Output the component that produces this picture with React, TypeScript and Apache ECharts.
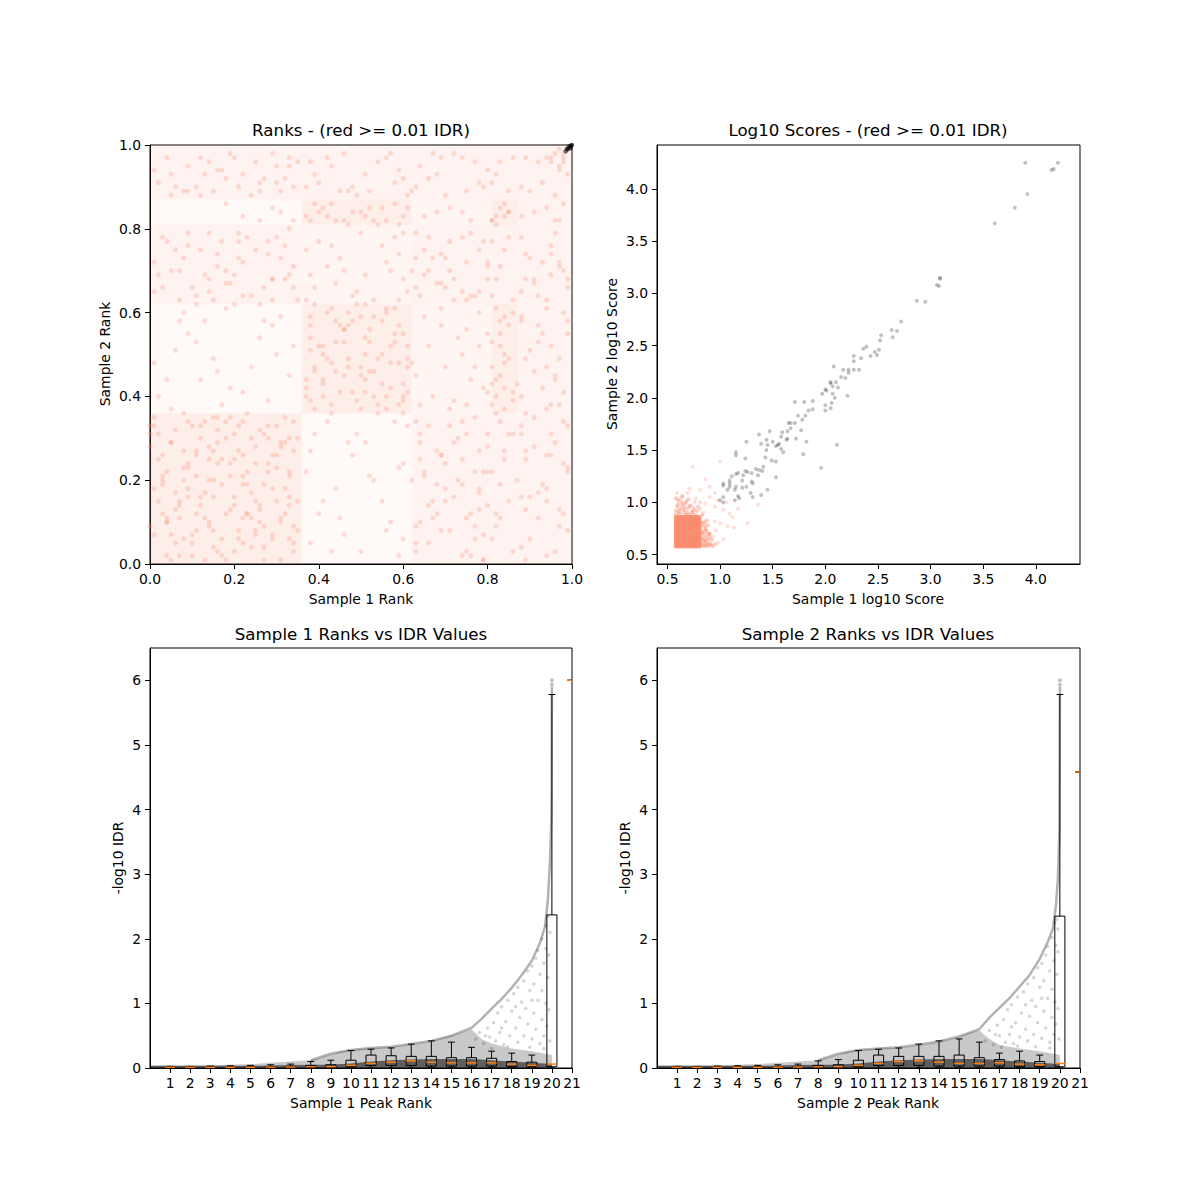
import React, { useEffect, useRef } from "react";
import * as echarts from "echarts";

// ---------- tick values ----------
const rankTicks = [0, 0.2, 0.4, 0.6, 0.8, 1.0];
const scoreTicks = [0.5, 1.0, 1.5, 2.0, 2.5, 3.0, 3.5, 4.0];
const idrTicks = [0, 1, 2, 3, 4, 5, 6];
const peakRankTicks = [1, 2, 3, 4, 5, 6, 7, 8, 9, 10, 11, 12, 13, 14, 15, 16, 17, 18, 19, 20, 21];

// ---------- panel 1: ranks ----------
const rankBlockEdges = [0, 0.36, 0.62, 0.81, 0.87, 1.0];
// density level per block: rows = x block, cols = y block
const rankBlockDensity = [
  [3, 1, 2, 1, 2],
  [1, 3, 1.5, 3, 2],
  [2, 1.5, 2, 1.5, 2],
  [2, 3, 2, 3, 2],
  [2, 2, 2, 2, 2],
];
// each code: two digits x rank (%), two digits y rank (%)
const rankPointCodes = `
0312 0827 1504 2219 3033 0605 1121 1830 2508 3314 0118 0934
1410 2025 2701 3229 0422 1007 1635 2312 2926 3403 0231 0715
1301 1924 2417 3110 0529 1233 1702 2106 2822 3530 0009 0820
1516 2234 2613 3218 0326 1112 1428 2003 2731 3306 0714 0501
1624 2319 2907 3427 0133 0923 1311 1834 2528 3015 0410 1005
1719 2211 2632 3322 0617 1230 1508 2127 2404 3101 0225 0836
1420 1913 2709 3434 0507 1126 1632 2016 2524 3212 0028 0711
1317 2205 2830 3508 0320 1033 1801 2322 2614 3129 0613 0924
1535 2108 2719 3316 0402 1214 1725 2031 2411 3023 0135 0806
1409 1921 2833 3405 0319 1127 1603 2226 2515 3111 0031 0916
0240 0955 1738 2447 3159 0651 1244 2062 2839 3452 0148 1358 1942 2654 3345 0537 0860 1549 2241 2957 0444 1153 1861 2336 3050 0758 1646 2758
0165 0873 1468 2179 2963 3471 0477 1164 1870 2575 3268 0269 0976 1563 2272 3078 3466 0570 1275 1967 2662 3380 0763 1479 2069 2874 0172 1066 1777 2464 3173 0378 1162 1674 2378 2968 3563 0675 1369 2177 2766
2283 2985 3482 1886 2682 3184
0291 0995 1589 2293 2998 3490 0588 1297 1892 2596 3189 0194 0889 1496 2190 2792 3397 0497 1190 1794 2488 3095 0690 1393 2097 2689 3292 3596
3805 4418 5129 5710 6024 3931 4607 5320 5902 4012 4826 5515 6133 3722 4303 4931 5608 5923 4115 4729 5436 6006 3827 4511 5221 5834 4234 5003
3740 4152 4645 5059 5438 5853 6147 3857 4336 4749 5162 5742 6055 3947 4458 4841 5256 5640 5948 3744 4260 4653 5037 5449 5861 6141 3851 4144 4557 4939 5346 5752 6036 3962 4348 4760 5154 5543 5938 3742 4150 4656 5045 5359 5748 6152 3854 4338 4747 5253 5661 6043 3937 4446 4858 5141 5550 5957 3859 4140
3966 4573 5169 5878 4271 4864 5576 6068 3775 4467 5079 5672 6165 4077 4670 5363 5974 3869 4376 4965 5770 6079
3783 4185 4682 5084 5481 5886 6083 3986 4482 4884 5285 5682 6185 4283
3790 4395 4988 5697 6092 4091 4698 5289 5994 3896 4589 5193 5798 6188 4297 4890 5496 5891 3993 4789
6303 6812 7425 7907 6431 7018 7602 8022 6614 7229 7735 6309 6926 7511 7817 6522 7133 7706 8028 6715 7320 7901 6429 6908 7434 7813 6220 7024 7612 8031 6605 7216 7827 6334 6819 7503 7922 6711 7330 7709 6425
6438 7047 7556 8041 6652 7239 7860 6345 6957 7450 7942 6740 7354 7747 6559 7137 7644 8055 6248 6961 7538 7852
6366 6974 7563 8071 6678 7268 7875 6464 7073 7679 6270 6867 7465 7977 6575 7170 7764 6379 7066 7572 8068 6773
6583 7185 7682 6884 7484
6390 6997 7589 8094 6692 7298 7891 6495 7088 7796 6289 6893 7497 7990 6798
8106 8319 8531 8212 8427 8603 8122 8334 8515 8209 8425 8631 8311
8138 8244 8352 8459 8641 8147 8355 8437 8549 8261 8143 8358 8450 8639
8164 8371 8578 8268 8475 8663 8177
8182 8385 8483 8281 8584
8191 8396 8589 8293 8697
8804 9217 9629 9908 8925 9402 9713 8833 9319 9824 9006 9531 8816 9128 9709 9922 8901 9415 9834 8927 9211 9603 9933 8720 9526 9812 9135 9418
8840 9253 9645 9958 8949 9437 9860 9146 9552 8858 9342 9749 9955 8936 9461 9644 9051 9738 8743 9257
8865 9372 9679 9968 8974 9463 9870 9167 9576 8878 9264 9771 9966 9073 9569
8883 9485 9782 9184 9886
8890 9296 9688 9993 8997 9391 9794 9089 9597 9799 9698 9897 9596 9795 9898 9999 9497 9896
`;
const rankPointCodesExtra = `
0215 0632 1108 1527 2014 2430 2906 3321 0410 0823 1334 1812 2221 2704 3128 3515 0107 0529 0918 1425
1706 2133 2610 3026 3409 0321 0702 1216 1629 2312 2824 3235 0033 0411 1002 1520 1935 2507 2918 3330
3839 4249 4757 5144 5660 6040 3946 4453 4962 5340 5855 6149 3763 4143 4656 5150 5637 5963 4052 4541 5047 5558 6039 4361 5246
3882 4386 4781 5183 5585 5981 4084 5382
8240 8448 8557 8345 8153 8660 8442 8236
8283 8486 8182 8584
6410 6926 7402 7818 6633 7108 7722 6305 7015 7531 8014 6827 7419 6521 7901
6569 7177 7664 8072 6373 6967 7478 7865 6670 7263
8913 9426 9841 9355 8968 9682 9016 9538 9772 8859 9447 9923 9168 9574 8831
0366 0979 1671 2264 2877 3369 0770 1465 2173 2968 3276 1867
0593 1288 1998 2691 3395 0989 1694 3091
`;
const rankTopPoints = [
  [0.99, 0.99], [0.995, 0.995], [1.0, 1.0], [0.993, 0.997], [0.997, 0.992],
  [0.988, 0.991], [0.985, 0.985], [0.998, 0.999],
];

// ---------- panel 2: log10 scores ----------
const scoreGrayPoints = [
  [3.90, 4.25], [4.21, 4.25], [4.15, 4.18], [4.17, 4.19], [3.92, 3.95], [3.80, 3.82], [3.61, 3.67],
  [3.09, 3.15], [3.09, 3.14], [3.06, 3.08], [3.08, 3.07], [2.87, 2.93], [2.95, 2.92], [2.72, 2.73],
  [2.63, 2.65], [2.68, 2.64], [2.64, 2.58], [2.53, 2.60], [2.52, 2.55], [2.51, 2.46], [2.47, 2.44], [2.49, 2.41], [2.43, 2.40],
  [2.39, 2.49], [2.36, 2.47], [2.34, 2.38], [2.32, 2.27], [2.27, 2.27], [2.27, 2.35], [2.27, 2.40],
  [2.22, 2.27], [2.22, 2.24], [2.19, 2.19], [2.15, 2.20], [2.08, 2.30], [2.10, 2.15], [2.07, 2.11], [2.12, 2.10],
  [2.05, 2.15], [2.00, 2.08], [2.01, 2.07], [1.97, 2.04], [2.07, 2.04], [2.09, 2.00], [2.21, 2.02], [2.05, 1.90],
  [2.00, 1.93], [1.88, 1.97], [1.88, 1.89], [1.84, 1.88], [1.81, 1.83], [1.78, 1.79], [1.74, 1.83], [1.71, 1.96],
  [1.80, 1.96], [1.71, 1.76], [1.67, 1.76], [1.65, 1.76], [1.67, 1.71], [1.64, 1.68], [1.77, 1.69], [1.72, 1.61],
  [1.82, 1.58], [1.79, 1.46], [1.63, 1.60], [1.64, 1.61], [1.58, 1.63], [1.59, 1.67], [1.56, 1.56], [1.55, 1.55],
  [1.58, 1.51], [1.53, 1.54], [1.50, 1.58], [1.45, 1.55], [1.47, 1.68], [1.44, 1.60], [1.39, 1.56], [1.37, 1.65],
  [1.25, 1.58], [1.24, 1.42], [1.15, 1.48], [1.15, 1.45], [1.44, 1.50], [1.43, 1.43], [1.41, 1.34], [1.40, 1.30],
  [1.37, 1.31], [1.36, 1.26], [1.34, 1.32], [1.30, 1.28], [1.53, 1.24], [1.49, 1.40], [1.53, 1.39], [1.60, 1.48],
  [1.26, 1.29], [1.24, 1.30], [1.22, 1.26], [1.21, 1.21], [1.17, 1.28], [1.15, 1.27], [1.11, 1.25], [1.09, 1.21],
  [1.09, 1.18], [1.03, 1.18], [1.09, 1.15], [1.07, 1.12], [1.14, 1.12], [1.15, 1.15], [1.21, 1.14], [1.17, 1.06],
  [1.18, 1.04], [1.14, 1.02], [1.30, 1.20], [1.31, 1.18], [1.29, 1.09], [1.31, 1.05], [1.39, 1.07], [1.45, 1.12],
  [1.25, 1.15], [1.03, 1.05], [1.00, 1.02], [1.03, 1.00], [1.03, 1.16], [1.96, 1.33], [2.11, 1.55], [2.00, 1.88],
  [2.06, 1.95], [2.17, 2.27], [2.05, 2.14],
];
const scoreRedSparse = [
  [0.74, 1.34], [1.00, 1.39], [0.86, 1.22], [0.69, 1.09], [0.62, 1.03], [0.59, 1.09], [0.71, 1.13], [0.81, 1.12],
  [0.90, 1.15], [0.95, 1.09], [0.98, 1.02], [1.06, 1.00], [0.90, 1.05], [0.77, 1.04], [0.86, 0.99], [0.95, 0.96],
  [1.03, 0.93], [1.09, 0.89], [1.12, 0.86], [1.07, 0.77], [1.13, 0.76], [1.26, 0.80], [1.36, 0.98], [1.17, 0.94],
  [1.00, 0.80], [0.96, 0.73], [1.03, 0.65], [0.98, 0.61], [0.93, 0.67], [0.88, 0.83], [0.86, 0.73], [0.90, 0.70],
  [0.95, 0.82], [0.81, 0.94], [0.71, 0.97], [0.65, 0.99], [0.76, 1.00], [0.81, 1.00], [0.64, 1.05], [0.68, 0.93],
  [0.84, 0.90], [0.75, 0.92],
];
const scoreRedMedium = [
  [0.82, 0.60], [0.84, 0.62], [0.86, 0.60], [0.82, 0.66], [0.85, 0.68], [0.88, 0.62], [0.83, 0.72], [0.86, 0.75],
  [0.82, 0.78], [0.84, 0.80], [0.90, 0.60], [0.88, 0.70], [0.87, 0.66], [0.92, 0.64], [0.81, 0.84], [0.83, 0.88],
  [0.60, 0.90], [0.62, 0.94], [0.58, 0.92], [0.66, 0.90], [0.70, 0.95], [0.64, 0.97], [0.59, 0.96], [0.74, 0.90],
  [0.68, 0.88], [0.78, 0.92], [0.95, 0.60], [0.90, 0.67], [0.82, 0.70], [0.85, 0.64],
  [0.58, 0.88], [0.60, 0.98], [0.62, 0.89], [0.63, 1.00], [0.65, 0.93], [0.67, 0.99], [0.69, 0.90], [0.71, 0.88],
  [0.72, 0.97], [0.75, 0.94], [0.77, 0.88], [0.79, 0.96], [0.60, 1.02], [0.64, 1.06], [0.58, 1.04], [0.70, 1.03],
  [0.66, 0.95], [0.73, 0.91], [0.61, 0.92], [0.68, 1.01],
  [0.81, 0.58], [0.83, 0.59], [0.85, 0.58], [0.87, 0.59], [0.89, 0.58], [0.81, 0.63], [0.83, 0.65], [0.86, 0.63],
  [0.81, 0.69], [0.84, 0.71], [0.87, 0.73], [0.81, 0.75], [0.85, 0.77], [0.82, 0.81], [0.88, 0.78], [0.90, 0.70],
  [0.86, 0.82], [0.91, 0.60], [0.93, 0.58], [0.89, 0.65],
];
// discrete score levels of the dense low-score block
const clusterXLevels = [0.58, 0.60, 0.62, 0.64, 0.66, 0.68, 0.70, 0.72, 0.74, 0.76, 0.78, 0.80];
const clusterYLevels = [0.58, 0.60, 0.62, 0.64, 0.66, 0.68, 0.70, 0.72, 0.74, 0.76, 0.78, 0.80, 0.82, 0.84, 0.86];

// ---------- panels 3 & 4: peak rank vs -log10 IDR ----------
const cloudX = [0, 2, 4, 5, 6, 7, 8, 8.5, 9, 9.5, 10, 11, 12, 13, 14, 15, 15.5, 16, 16.5, 17, 18, 19, 20];
const cloudTop1 = [0.04, 0.04, 0.05, 0.06, 0.08, 0.1, 0.12, 0.16, 0.21, 0.25, 0.28, 0.31, 0.32, 0.36, 0.41, 0.5, 0.55, 0.6, 0.45, 0.38, 0.3, 0.26, 0.2];
const cloudTop2 = [0.04, 0.04, 0.05, 0.06, 0.08, 0.1, 0.12, 0.16, 0.21, 0.25, 0.28, 0.3, 0.31, 0.35, 0.4, 0.48, 0.54, 0.58, 0.45, 0.36, 0.3, 0.26, 0.2];
const denseTop1 = [0.035, 0.035, 0.035, 0.035, 0.04, 0.045, 0.05, 0.05, 0.055, 0.06, 0.07, 0.1, 0.12, 0.13, 0.14, 0.14, 0.14, 0.14, 0.13, 0.12, 0.1, 0.08, 0.06];
const denseTop2 = [0.035, 0.035, 0.035, 0.035, 0.04, 0.045, 0.05, 0.05, 0.055, 0.06, 0.07, 0.1, 0.12, 0.13, 0.14, 0.14, 0.14, 0.14, 0.13, 0.12, 0.1, 0.08, 0.06];

const edgeX = [8, 9, 10, 11, 12, 13, 14, 15, 16, 16.5, 17, 17.5, 18, 18.5, 19, 19.4, 19.65, 19.8, 19.9, 19.98, 20];
const edgeY1 = [0.12, 0.22, 0.28, 0.31, 0.33, 0.37, 0.42, 0.5, 0.62, 0.76, 0.92, 1.07, 1.24, 1.44, 1.66, 1.93, 2.18, 2.6, 3.17, 3.94, 5.9];
const edgeY2 = [0.12, 0.22, 0.28, 0.3, 0.32, 0.36, 0.41, 0.49, 0.6, 0.78, 0.93, 1.08, 1.26, 1.44, 1.69, 1.95, 2.15, 2.5, 2.91, 3.68, 5.9];

const sparse1 = [
  [16.2, 0.45], [16.4, 0.55], [16.6, 0.38], [16.8, 0.62], [16.9, 0.48], [17.1, 0.7], [17.2, 0.42], [17.3, 0.85],
  [17.4, 0.55], [17.5, 0.95], [17.6, 0.36], [17.7, 0.72], [17.8, 1.05], [17.9, 0.5], [18.0, 0.88], [18.1, 1.15],
  [18.2, 0.62], [18.3, 0.4], [18.3, 1.25], [18.4, 0.78], [18.5, 1.02], [18.6, 1.35], [18.6, 0.5], [18.7, 0.92],
  [18.8, 1.5], [18.8, 0.68], [18.9, 1.2], [19.0, 0.45], [19.0, 1.58], [19.1, 0.85], [19.1, 1.3], [19.2, 1.7],
  [19.2, 0.6], [19.3, 1.05], [19.3, 1.82], [19.4, 0.38], [19.4, 1.45], [19.5, 0.75], [19.5, 2.0], [19.5, 1.2],
  [19.6, 1.62], [19.6, 0.5], [19.7, 2.2], [19.7, 1.0], [19.7, 1.85], [19.75, 0.65], [19.8, 1.4], [19.8, 2.35],
  [19.85, 0.9], [19.85, 1.75], [19.9, 2.1], [19.9, 0.42], [17.0, 0.3], [17.8, 0.33], [18.9, 0.32], [19.6, 0.3],
  [16.7, 0.5], [17.5, 0.62], [18.2, 0.95], [19.0, 1.05],
];
const sparse2 = [
  [16.3, 0.42], [16.5, 0.58], [16.7, 0.36], [16.9, 0.66], [17.0, 0.5], [17.2, 0.75], [17.3, 0.4], [17.4, 0.9],
  [17.5, 0.52], [17.6, 0.98], [17.7, 0.38], [17.8, 0.7], [17.9, 1.1], [18.0, 0.48], [18.1, 0.85], [18.2, 1.18],
  [18.3, 0.6], [18.4, 0.42], [18.4, 1.3], [18.5, 0.8], [18.6, 1.05], [18.7, 1.4], [18.7, 0.52], [18.8, 0.95],
  [18.9, 1.55], [18.9, 0.7], [19.0, 1.25], [19.1, 0.46], [19.1, 1.62], [19.2, 0.88], [19.2, 1.35], [19.3, 1.75],
  [19.3, 0.62], [19.4, 1.08], [19.4, 1.88], [19.5, 0.4], [19.5, 1.5], [19.6, 0.78], [19.6, 2.02], [19.6, 1.22],
  [19.7, 1.66], [19.7, 0.52], [19.75, 2.25], [19.75, 1.02], [19.8, 1.9], [19.8, 0.68], [19.85, 1.45], [19.85, 2.3],
  [19.9, 0.92], [19.9, 1.8], [19.9, 2.15], [19.95, 0.45], [17.1, 0.32], [17.9, 0.34], [18.8, 0.33], [19.5, 0.31],
  [16.8, 0.52], [17.6, 0.64], [18.3, 0.98], [19.1, 1.08],
];
const topOutliers1 = [[20, 6.0], [20, 5.93]];
const topOutliers2 = [[20, 6.0], [20, 5.93]];

// box stats: [position, low whisker, Q1, median, Q3, high whisker]
const boxes1 = [
  [1, 0, 0.005, 0.01, 0.015, 0.025], [2, 0, 0.005, 0.01, 0.015, 0.025], [3, 0, 0.005, 0.01, 0.015, 0.03],
  [4, 0, 0.006, 0.011, 0.018, 0.035], [5, 0, 0.008, 0.012, 0.02, 0.04], [6, 0, 0.009, 0.013, 0.022, 0.05],
  [7, 0, 0.01, 0.015, 0.025, 0.06], [8, 0, 0.01, 0.02, 0.04, 0.1], [9, 0, 0.01, 0.02, 0.05, 0.12],
  [10, 0, 0.02, 0.04, 0.12, 0.27], [11, 0, 0.04, 0.07, 0.2, 0.29], [12, 0, 0.04, 0.09, 0.19, 0.31],
  [13, 0, 0.04, 0.11, 0.18, 0.37], [14, 0, 0.03, 0.09, 0.18, 0.42], [15, 0, 0.03, 0.08, 0.16, 0.4],
  [16, 0, 0.03, 0.08, 0.16, 0.32], [17, 0, 0.03, 0.08, 0.15, 0.26], [18, 0, 0.02, 0.06, 0.1, 0.23],
  [19, 0, 0.02, 0.04, 0.09, 0.2], [20, 0, 0.02, 0.06, 2.37, 5.78], [21, 6.0, 6.0, 6.0, 6.0, 6.0],
];
const boxes2 = [
  [1, 0, 0.005, 0.01, 0.015, 0.025], [2, 0, 0.005, 0.01, 0.015, 0.025], [3, 0, 0.005, 0.01, 0.015, 0.03],
  [4, 0, 0.006, 0.011, 0.018, 0.035], [5, 0, 0.008, 0.012, 0.02, 0.04], [6, 0, 0.009, 0.013, 0.022, 0.05],
  [7, 0, 0.01, 0.015, 0.025, 0.06], [8, 0, 0.01, 0.02, 0.04, 0.11], [9, 0, 0.01, 0.02, 0.05, 0.13],
  [10, 0, 0.02, 0.04, 0.12, 0.27], [11, 0, 0.04, 0.07, 0.2, 0.29], [12, 0, 0.04, 0.1, 0.18, 0.31],
  [13, 0, 0.04, 0.11, 0.18, 0.37], [14, 0, 0.03, 0.09, 0.18, 0.42], [15, 0, 0.03, 0.07, 0.2, 0.45],
  [16, 0, 0.03, 0.07, 0.16, 0.4], [17, 0, 0.03, 0.08, 0.13, 0.23], [18, 0, 0.02, 0.06, 0.11, 0.26],
  [19, 0, 0.02, 0.05, 0.1, 0.2], [20, 0, 0.02, 0.07, 2.35, 5.78], [21, 4.58, 4.58, 4.58, 4.58, 4.58],
];

// ---------- texts ----------
const titles = [
  { text: "Ranks - (red >= 0.01 IDR)", x: 361, y: 130 },
  { text: "Log10 Scores - (red >= 0.01 IDR)", x: 868, y: 130 },
  { text: "Sample 1 Ranks vs IDR Values", x: 361, y: 634 },
  { text: "Sample 2 Ranks vs IDR Values", x: 868, y: 634 },
];
const xNames = [
  { text: "Sample 1 Rank", x: 361, y: 599 },
  { text: "Sample 1 log10 Score", x: 868, y: 599 },
  { text: "Sample 1 Peak Rank", x: 361, y: 1103 },
  { text: "Sample 2 Peak Rank", x: 868, y: 1103 },
];
const yNames = [
  { text: "Sample 2 Rank", x: 105, y: 354 },
  { text: "Sample 2 log10 Score", x: 612, y: 354 },
  { text: "-log10 IDR", x: 118, y: 858 },
  { text: "-log10 IDR", x: 625, y: 858 },
];

const FONT = "DejaVu Sans";
const SALMON = "250,140,110";

function decodeRankPoints(codes: string) {
  return codes
    .trim()
    .split(/\s+/)
    .map((c) => [Number(c.slice(0, 2)) / 100, Number(c.slice(2, 4)) / 100]);
}

function buildOption() {
  const rankPoints = decodeRankPoints(rankPointCodes).concat(decodeRankPoints(rankPointCodesExtra));

  const blocks: number[][] = [];
  for (let i = 0; i < 5; i++) {
    for (let j = 0; j < 5; j++) {
      blocks.push([rankBlockEdges[i], rankBlockEdges[i + 1], rankBlockEdges[j], rankBlockEdges[j + 1], rankBlockDensity[i][j]]);
    }
  }

  const cluster: number[][] = [];
  clusterXLevels.forEach((x) => clusterYLevels.forEach((y) => cluster.push([x, y])));

  const zip = (xs: number[], ys: number[]) => xs.map((x, i) => [x, ys[i]]);

  const axis = (dim: "x" | "y", gridIndex: number, min: number, max: number, ticks: number[], fmt: (v: number) => string) => ({
    type: "value",
    gridIndex,
    min,
    max,
    position: dim === "x" ? "bottom" : "left",
    axisLine: { show: true, onZero: false, lineStyle: { color: "#000", width: 1 } },
    axisTick: { show: true, length: 5, customValues: ticks, lineStyle: { color: "#000", width: 1 } },
    axisLabel: {
      show: true,
      customValues: ticks,
      formatter: (v: number) => fmt(v),
      color: "#000",
      fontSize: 13.9,
      fontFamily: FONT,
      margin: dim === "x" ? 8 : 9,
    },
    splitLine: { show: false },
  });

  const f1 = (v: number) => v.toFixed(1);
  const fInt = (v: number) => String(Math.round(v));

  const renderBlock = (params: any, api: any) => {
    const p0 = api.coord([api.value(0), api.value(2)]);
    const p1 = api.coord([api.value(1), api.value(3)]);
    const d = api.value(4);
    return {
      type: "rect",
      shape: { x: p0[0], y: p1[1], width: p1[0] - p0[0], height: p0[1] - p1[1] },
      style: { fill: `rgba(${SALMON},${0.05 * d})` },
    };
  };

  const renderBox = (params: any, api: any) => {
    const pos = api.value(0);
    const lo = api.value(1);
    const q1 = api.value(2);
    const med = api.value(3);
    const q3 = api.value(4);
    const hi = api.value(5);
    const hw = 0.25;
    const cw = 0.17;
    const pl = api.coord([pos - hw, q3]);
    const pr = api.coord([pos + hw, q1]);
    const pc = api.coord([pos, hi]);
    const plo = api.coord([pos, lo]);
    const pm = api.coord([pos, med]);
    const cl = api.coord([pos - cw, 0])[0];
    const cr = api.coord([pos + cw, 0])[0];
    const st = { stroke: "#000", lineWidth: 1, fill: "none" };
    return {
      type: "group",
      children: [
        { type: "rect", shape: { x: pl[0], y: pl[1], width: pr[0] - pl[0], height: Math.max(pr[1] - pl[1], 0) }, style: st },
        { type: "line", shape: { x1: pc[0], y1: pl[1], x2: pc[0], y2: pc[1] }, style: st },
        { type: "line", shape: { x1: pc[0], y1: pr[1], x2: pc[0], y2: plo[1] }, style: st },
        { type: "line", shape: { x1: cl, y1: pc[1], x2: cr, y2: pc[1] }, style: st },
        { type: "line", shape: { x1: cl, y1: plo[1], x2: cr, y2: plo[1] }, style: st },
        { type: "line", shape: { x1: pl[0], y1: pm[1], x2: pr[0], y2: pm[1] }, style: { stroke: "#ff7f0e", lineWidth: 1.5 } },
      ],
    };
  };

  const idrSeries = (idx: number, top: number[], dense: number[], edge: number[], sparse: number[][], outl: number[][], boxes: number[][]) => [
    {
      type: "line",
      xAxisIndex: idx,
      yAxisIndex: idx,
      data: zip(cloudX, top),
      symbol: "none",
      lineStyle: { width: 0 },
      areaStyle: { color: "rgba(0,0,0,0.3)", origin: "start" },
      silent: true,
      z: 2,
    },
    {
      type: "line",
      xAxisIndex: idx,
      yAxisIndex: idx,
      data: zip(cloudX, dense),
      symbol: "none",
      lineStyle: { width: 0 },
      areaStyle: { color: "rgba(0,0,0,0.75)", origin: "start" },
      silent: true,
      z: 3,
    },
    {
      type: "line",
      xAxisIndex: idx,
      yAxisIndex: idx,
      data: zip(edgeX, edge),
      symbol: "none",
      lineStyle: { width: 2.5, color: "rgba(0,0,0,0.3)" },
      silent: true,
      z: 3,
    },
    {
      type: "scatter",
      xAxisIndex: idx,
      yAxisIndex: idx,
      data: sparse,
      symbolSize: 3.5,
      itemStyle: { color: "rgba(0,0,0,0.2)" },
      silent: true,
      z: 3,
    },
    {
      type: "scatter",
      xAxisIndex: idx,
      yAxisIndex: idx,
      data: outl,
      symbolSize: 4,
      itemStyle: { color: "rgba(0,0,0,0.3)" },
      silent: true,
      z: 3,
    },
    {
      type: "custom",
      xAxisIndex: idx,
      yAxisIndex: idx,
      data: boxes,
      encode: { x: 0, y: [1, 2, 3, 4, 5] },
      renderItem: renderBox,
      clip: true,
      silent: true,
      z: 5,
    },
  ];

  const graphic: any[] = [];
  titles.forEach((t) =>
    graphic.push({
      type: "text",
      x: t.x,
      y: t.y,
      style: { text: t.text, font: `16.7px "${FONT}"`, fill: "#000", align: "center", verticalAlign: "middle", textAlign: "center", textVerticalAlign: "middle" },
    })
  );
  xNames.forEach((t) =>
    graphic.push({
      type: "text",
      x: t.x,
      y: t.y,
      style: { text: t.text, font: `13.9px "${FONT}"`, fill: "#000", align: "center", verticalAlign: "middle", textAlign: "center", textVerticalAlign: "middle" },
    })
  );
  yNames.forEach((t) =>
    graphic.push({
      type: "text",
      x: t.x,
      y: t.y,
      rotation: Math.PI / 2,
      style: { text: t.text, font: `13.9px "${FONT}"`, fill: "#000", align: "center", verticalAlign: "middle", textAlign: "center", textVerticalAlign: "middle" },
    })
  );

  const gridStyle = { show: true, borderColor: "#000", borderWidth: 1, backgroundColor: "transparent", containLabel: false };

  return {
    animation: false,
    backgroundColor: "#fff",
    textStyle: { fontFamily: FONT },
    grid: [
      { left: 150, top: 145, width: 422, height: 419, ...gridStyle },
      { left: 657, top: 145, width: 423, height: 419, ...gridStyle },
      { left: 150, top: 648, width: 422, height: 420, ...gridStyle },
      { left: 657, top: 648, width: 423, height: 420, ...gridStyle },
    ],
    xAxis: [
      axis("x", 0, 0, 1, rankTicks, f1),
      axis("x", 1, 0.4, 4.42, scoreTicks, f1),
      axis("x", 2, 0, 21, peakRankTicks, fInt),
      axis("x", 3, 0, 21, peakRankTicks, fInt),
    ],
    yAxis: [
      axis("y", 0, 0, 1, rankTicks, f1),
      axis("y", 1, 0.41, 4.42, scoreTicks, f1),
      axis("y", 2, 0, 6.5, idrTicks, fInt),
      axis("y", 3, 0, 6.5, idrTicks, fInt),
    ],
    graphic,
    series: [
      {
        type: "custom",
        xAxisIndex: 0,
        yAxisIndex: 0,
        data: blocks,
        encode: { x: [0, 1], y: [2, 3] },
        renderItem: renderBlock,
        silent: true,
        z: 1,
      },
      {
        type: "scatter",
        xAxisIndex: 0,
        yAxisIndex: 0,
        data: rankPoints,
        symbolSize: 5,
        itemStyle: { color: `rgba(${SALMON},0.35)` },
        silent: true,
        z: 2,
      },
      {
        type: "scatter",
        xAxisIndex: 0,
        yAxisIndex: 0,
        data: rankTopPoints,
        symbolSize: 4.5,
        itemStyle: { color: "rgba(0,0,0,0.7)" },
        silent: true,
        z: 3,
      },
      {
        type: "scatter",
        xAxisIndex: 1,
        yAxisIndex: 1,
        data: scoreRedSparse,
        symbolSize: 4,
        itemStyle: { color: `rgba(${SALMON},0.35)` },
        silent: true,
        z: 2,
      },
      {
        type: "scatter",
        xAxisIndex: 1,
        yAxisIndex: 1,
        data: scoreRedMedium,
        symbolSize: 4,
        itemStyle: { color: `rgba(${SALMON},0.55)` },
        silent: true,
        z: 2,
      },
      {
        type: "scatter",
        xAxisIndex: 1,
        yAxisIndex: 1,
        data: cluster,
        symbol: "rect",
        symbolSize: 4,
        itemStyle: { color: `rgb(${SALMON})` },
        silent: true,
        z: 3,
      },
      {
        type: "scatter",
        xAxisIndex: 1,
        yAxisIndex: 1,
        data: scoreGrayPoints,
        symbolSize: 4,
        itemStyle: { color: "rgba(0,0,0,0.3)" },
        silent: true,
        z: 3,
      },
      ...idrSeries(2, cloudTop1, denseTop1, edgeY1, sparse1, topOutliers1, boxes1),
      ...idrSeries(3, cloudTop2, denseTop2, edgeY2, sparse2, topOutliers2, boxes2),
    ],
  };
}

export default function App() {
  const ref = useRef<HTMLDivElement>(null);
  useEffect(() => {
    if (!ref.current) return;
    const chart = echarts.init(ref.current, undefined, { renderer: "svg" });
    chart.setOption(buildOption() as any);
    return () => chart.dispose();
  }, []);
  return (
    <div
      ref={ref}
      style={{ position: "absolute", left: 0, top: 0, width: 1200, height: 1200, background: "#fff" }}
    />
  );
}
